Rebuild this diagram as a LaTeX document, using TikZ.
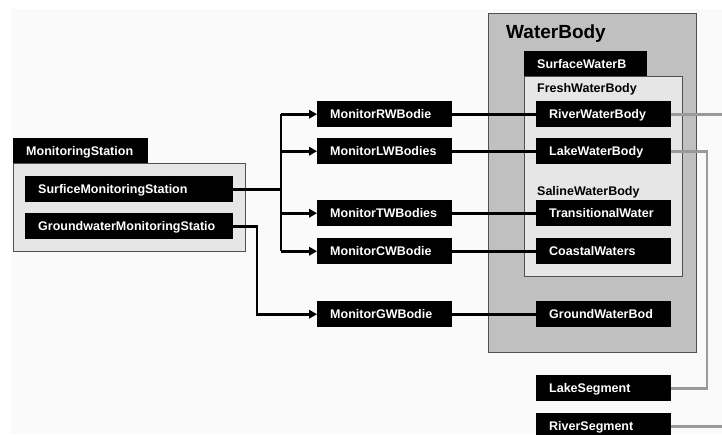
\documentclass[tikz,border=0pt]{standalone}
\usepackage{fontspec}
\setmainfont{Liberation Sans}
\usetikzlibrary{arrows.meta}
\definecolor{bgc}{HTML}{FAFAFA}
\definecolor{outerg}{HTML}{C0C0C0}
\definecolor{innerg}{HTML}{E6E6E6}
\definecolor{edgeg}{HTML}{505050}
\definecolor{conng}{HTML}{9A9A9A}
\begin{document}
\begin{tikzpicture}[x=1pt,y=-1pt,
  blk/.style={fill=black,text=white,font=\bfseries\fontsize{12.5}{14}\selectfont,anchor=north west,
    inner xsep=13pt,inner ysep=0pt,minimum height=26pt,align=left,text height=9pt,text depth=0pt},
  tab/.style={blk,minimum height=25pt},
  container/.style={anchor=north west,inner sep=0pt,outer sep=0pt,draw=edgeg,line width=1pt},
  lbl/.style={anchor=west,inner sep=0pt,font=\bfseries\fontsize{12.5}{14}\selectfont},
  cn/.style={line width=2.7pt},
  arr/.style={cn,-{Triangle[length=8pt,width=8.5pt]}},
  gcn/.style={line width=2.7pt,draw=conng}
]
\useasboundingbox (0,0) rectangle (722,434);
\fill[white] (0,0) rectangle (722,434);
\fill[bgc] (11,9) rectangle (722,434);

% containers
\node[container,fill=innerg,minimum width=232pt,minimum height=88pt] (msbox) at (13,163) {};
\node[tab,text width=109pt] (mstab) at (13,138) {MonitoringStation};

\node[container,fill=outerg,minimum width=208pt,minimum height=339pt] (wbbox) at (488,13) {};
\node[anchor=base west,inner sep=0pt,font=\bfseries\fontsize{19}{22}\selectfont] (wbtitle) at (506,38) {WaterBody};
\node[container,fill=innerg,minimum width=158pt,minimum height=200pt] (swbox) at (524,76) {};
\node[tab,text width=97pt] (swtab) at (524,51) {SurfaceWaterB};
\node[lbl] (fresh) at (537,89) {FreshWaterBody};
\node[lbl] (saline) at (537,192) {SalineWaterBody};

% stations
\node[blk,text width=182pt] (surf) at (25,176) {SurficeMonitoringStation};
\node[blk,text width=182pt] (ground) at (25,213) {GroundwaterMonitoringStatio};

% monitors
\node[blk,text width=109pt] (mrw) at (317,101) {MonitorRWBodie};
\node[blk,text width=109pt] (mlw) at (317,138) {MonitorLWBodies};
\node[blk,text width=109pt] (mtw) at (317,200) {MonitorTWBodies};
\node[blk,text width=109pt] (mcw) at (317,238) {MonitorCWBodie};
\node[blk,text width=109pt] (mgw) at (317,301) {MonitorGWBodie};

% water bodies
\node[blk,text width=109pt] (rwb) at (536,101) {RiverWaterBody};
\node[blk,text width=109pt] (lwb) at (536,138) {LakeWaterBody};
\node[blk,text width=109pt] (twb) at (536,200) {TransitionalWater};
\node[blk,text width=109pt] (cwb) at (536,238) {CoastalWaters};
\node[blk,text width=109pt] (gwb) at (536,301) {GroundWaterBod};
\node[blk,text width=109pt] (lseg) at (536,375) {LakeSegment};
\node[blk,text width=109pt] (rseg) at (536,413) {RiverSegment};

% connectors from stations
\coordinate (br) at (281,188);
\draw[cn] (surf.east) -- (surf.east -| br);
\draw[cn] (br |- mrw.west) -- (br |- mcw.west);
\draw[arr] (br |- mrw.west) -- (mrw.west);
\draw[arr] (br |- mlw.west) -- (mlw.west);
\draw[arr] (br |- mtw.west) -- (mtw.west);
\draw[arr] (br |- mcw.west) -- (mcw.west);
\coordinate (gb) at (257,225);
\draw[arr] (ground.east) -- (ground.east -| gb) |- (mgw.west);

% monitors to water bodies
\draw[cn] (mrw.east) -- (rwb.west);
\draw[cn] (mlw.east) -- (lwb.west);
\draw[cn] (mtw.east) -- (twb.west);
\draw[cn] (mcw.east) -- (cwb.west);
\draw[cn] (mgw.east) -- (gwb.west);

% gray connectors
\coordinate (rend) at (724,114);
\draw[gcn] (rwb.east) -- (rwb.east -| rend);
\coordinate (lx) at (707,151);
\draw[gcn] (lwb.east) -- (lwb.east -| lx) |- (lseg.east);
\draw[gcn] (rseg.east) -- (rseg.east -| rend);
\end{tikzpicture}
\end{document}
